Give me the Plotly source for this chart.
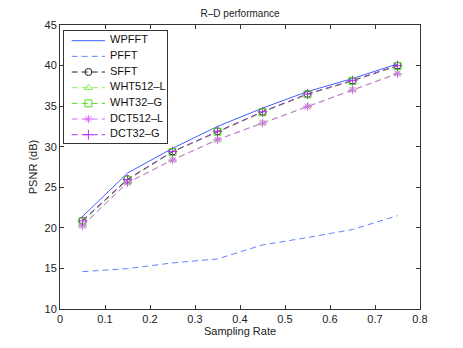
import plotly.graph_objects as go

rate = [0.05, 0.15, 0.25, 0.35, 0.45, 0.55, 0.65, 0.75]
wpfft = [21.4, 26.75, 29.8, 32.5, 34.75, 36.8, 38.4, 40.2]
pfft = [14.6, 14.98, 15.68, 16.17, 17.9, 18.8, 19.8, 21.5]
sfft = [20.9, 26.0, 29.4, 31.9, 34.3, 36.5, 38.15, 40.0]
wht512_l = [20.3, 25.6, 28.4, 30.9, 32.95, 35.0, 37.05, 39.05]
wht32_g = [20.8, 25.9, 29.35, 31.85, 34.25, 36.45, 38.1, 39.95]
dct512_l = [20.25, 25.55, 28.35, 30.85, 32.9, 34.95, 37.0, 39.0]
dct32_g = [20.85, 25.95, 29.4, 31.9, 34.3, 36.5, 38.15, 40.0]

font = "Liberation Sans, Arial, sans-serif"
dash = "6px,4px"

series = [
    ("WPFFT", wpfft, "#4060ff", "solid", None),
    ("PFFT", pfft, "#6680ff", dash, None),
    ("SFFT", sfft, "#222222", dash, "circle-open"),
    ("WHT512\u2013L", wht512_l, "#88f055", dash, "triangle-up-open"),
    ("WHT32\u2013G", wht32_g, "#55dd22", dash, "square-open"),
    ("DCT512\u2013L", dct512_l, "#dd66ff", dash, "asterisk-open"),
    ("DCT32\u2013G", dct32_g, "#b035e8", dash, "cross-thin-open"),
]

fig = go.Figure()
for name, ys, color, dsh, sym in series:
    fig.add_trace(go.Scatter(
        x=rate, y=ys, name=name, showlegend=False,
        mode="lines+markers" if sym else "lines",
        line=dict(color=color, width=1, dash=dsh),
        marker=dict(symbol=sym or "circle", size=7, color=color,
                    line=dict(color=color, width=1)),
    ))

# matlab-style legend box drawn on a small inset axis (units = pixels)
row_h = 15.7
for i, (name, ys, color, dsh, sym) in enumerate(series):
    yy = 9.7 + row_h * i
    fig.add_trace(go.Scatter(
        x=[7.7, 41], y=[yy, yy], mode="lines", xaxis="x2", yaxis="y2",
        line=dict(color=color, width=1, dash=dsh), showlegend=False,
        hoverinfo="skip"))
    if sym:
        fig.add_trace(go.Scatter(
            x=[24.4], y=[yy], mode="markers", xaxis="x2", yaxis="y2",
            marker=dict(symbol=sym, size=7, color=color,
                        line=dict(color=color, width=1)),
            showlegend=False, hoverinfo="skip"))
    fig.add_trace(go.Scatter(
        x=[46], y=[yy], mode="text", text=[name], textposition="middle right",
        textfont=dict(size=11, color="#111111"), xaxis="x2", yaxis="y2",
        showlegend=False, hoverinfo="skip"))

axis_common = dict(
    showgrid=False, zeroline=False, showline=True, linecolor="#333333",
    linewidth=1, mirror="ticks", ticks="inside", ticklen=4,
    tickcolor="#333333", tickfont=dict(size=11, color="#222222"),
    automargin=False,
)
fig.update_layout(
    xaxis=dict(range=[0, 0.8], dtick=0.1, tickformat="~g",
               title=dict(text="Sampling Rate", font=dict(size=11), standoff=2),
               **axis_common),
    yaxis=dict(range=[10, 45], dtick=5,
               title=dict(text="PSNR (dB)", font=dict(size=11), standoff=4),
               **axis_common),
    xaxis2=dict(domain=[0.0111, 0.2972], range=[0, 103], anchor="y2",
                showgrid=False, zeroline=False, showticklabels=False,
                showline=True, mirror=True, linecolor="#333333", linewidth=1,
                fixedrange=True),
    yaxis2=dict(domain=[0.5852, 0.9789], range=[112, 0], anchor="x2",
                showgrid=False, zeroline=False, showticklabels=False,
                showline=True, mirror=True, linecolor="#333333", linewidth=1,
                fixedrange=True),
    # page body adds 8px offset, so margins are shifted to match
    width=455, height=340,
    margin=dict(l=52, r=43, t=17, b=38.5, autoexpand=False),
    paper_bgcolor="white", plot_bgcolor="white",
    font=dict(family=font, size=11, color="#222222"),
    title=dict(text="R\u2013D performance", x=0.51, xanchor="center",
               xref="container", y=0.984, yanchor="middle", yref="container",
               font=dict(size=10)),
    showlegend=False,
)

fig.write_html("out.html")
